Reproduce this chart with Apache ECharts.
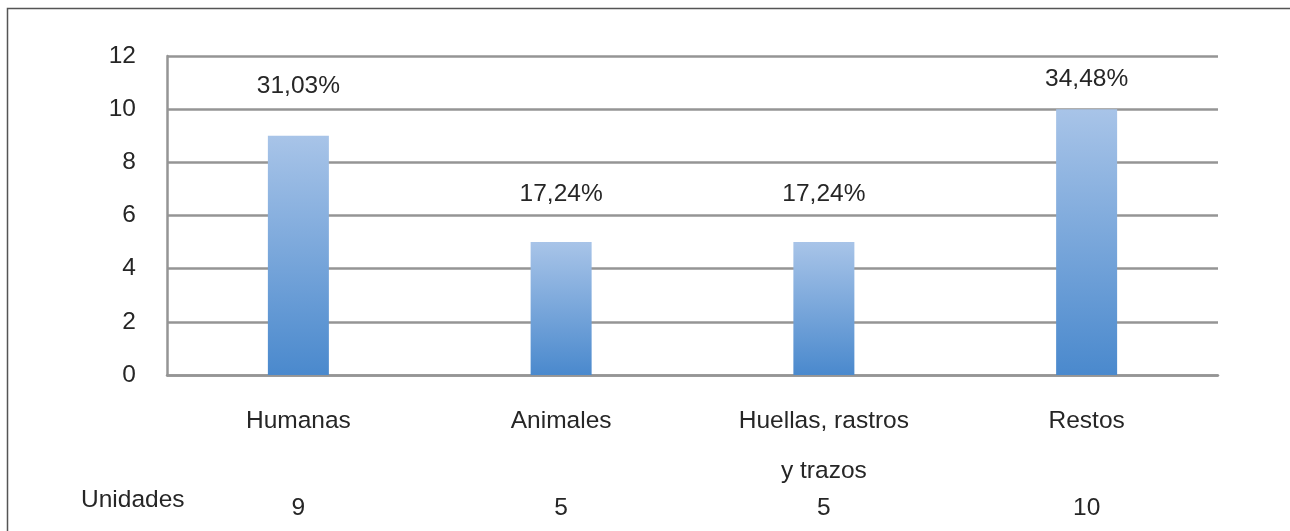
<!DOCTYPE html>
<html>
<head>
<meta charset="utf-8">
<script src="https://cdn.jsdelivr.net/npm/echarts@6/dist/echarts.min.js"></script>
<style>
  html, body { margin: 0; padding: 0; background: #ffffff; }
  #chart { width: 1290px; height: 531px; }
</style>
</head>
<body>
<div id="chart"></div>
<script>
// ---- data ----
const categories = ['Humanas', 'Animales', 'Huellas, rastros\ny trazos', 'Restos'];
const unidades = [9, 5, 5, 10];
const yTicks = { min: 0, max: 12, interval: 2 };
const rowTitle = 'Unidades';

// ---- styling (not data) ----
const labelGap = [37, 35, 35, 17];
const FONT = '"Liberation Sans", Arial, sans-serif';
const FS = 24.5;
const TXT = '#262626';
const GRID = '#959595';

const total = unidades.reduce((a, b) => a + b, 0);
const pct = unidades.map(v => (v / total * 100).toFixed(2).replace('.', ',') + '%');

const chart = echarts.init(document.getElementById('chart'), null, { renderer: 'canvas' });

chart.setOption({
  animation: false,
  backgroundColor: '#ffffff',
  grid: { left: 167, right: 72, top: 56, bottom: 156, containLabel: false },
  xAxis: [
    {
      type: 'category',
      data: categories,
      position: 'bottom',
      axisLine: { show: true, lineStyle: { color: GRID, width: 2.5 } },
      axisTick: { show: false },
      axisLabel: {
        color: TXT, fontFamily: FONT, fontSize: FS,
        lineHeight: 50, margin: 21, interval: 0
      }
    },
    {
      type: 'category',
      data: unidades.map(String),
      position: 'bottom',
      offset: 112,
      axisLine: { show: false },
      axisTick: { show: false },
      axisLabel: {
        color: TXT, fontFamily: FONT, fontSize: FS,
        lineHeight: 26, margin: 8, interval: 0
      }
    }
  ],
  yAxis: {
    type: 'value',
    min: yTicks.min, max: yTicks.max, interval: yTicks.interval,
    axisLine: { show: true, lineStyle: { color: GRID, width: 2.5 } },
    axisTick: { show: false },
    splitLine: { show: true, lineStyle: { color: GRID, width: 2.5 } },
    axisLabel: { color: TXT, fontFamily: FONT, fontSize: FS, margin: 31 }
  },
  series: [{
    type: 'bar',
    xAxisIndex: 0,
    barWidth: 61,
    data: unidades.map((v, i) => ({
      value: v,
      label: { distance: labelGap[i] }
    })),
    itemStyle: {
      color: new echarts.graphic.LinearGradient(0, 0, 0, 1, [
        { offset: 0, color: '#a8c4e8' },
        { offset: 1, color: '#4a89cd' }
      ])
    },
    label: {
      show: true,
      position: 'top',
      color: TXT, fontFamily: FONT, fontSize: FS,
      formatter: p => pct[p.dataIndex]
    }
  }],
  graphic: [
    {
      type: 'rect',
      silent: true,
      shape: { x: 7.5, y: 8.5, width: 1400, height: 700 },
      style: { fill: 'none', stroke: '#555555', lineWidth: 1.5 }
    },
    {
      type: 'text',
      left: 81, top: 488,
      style: { text: rowTitle, fill: TXT, font: FS + 'px ' + FONT }
    }
  ]
});
</script>
</body>
</html>
